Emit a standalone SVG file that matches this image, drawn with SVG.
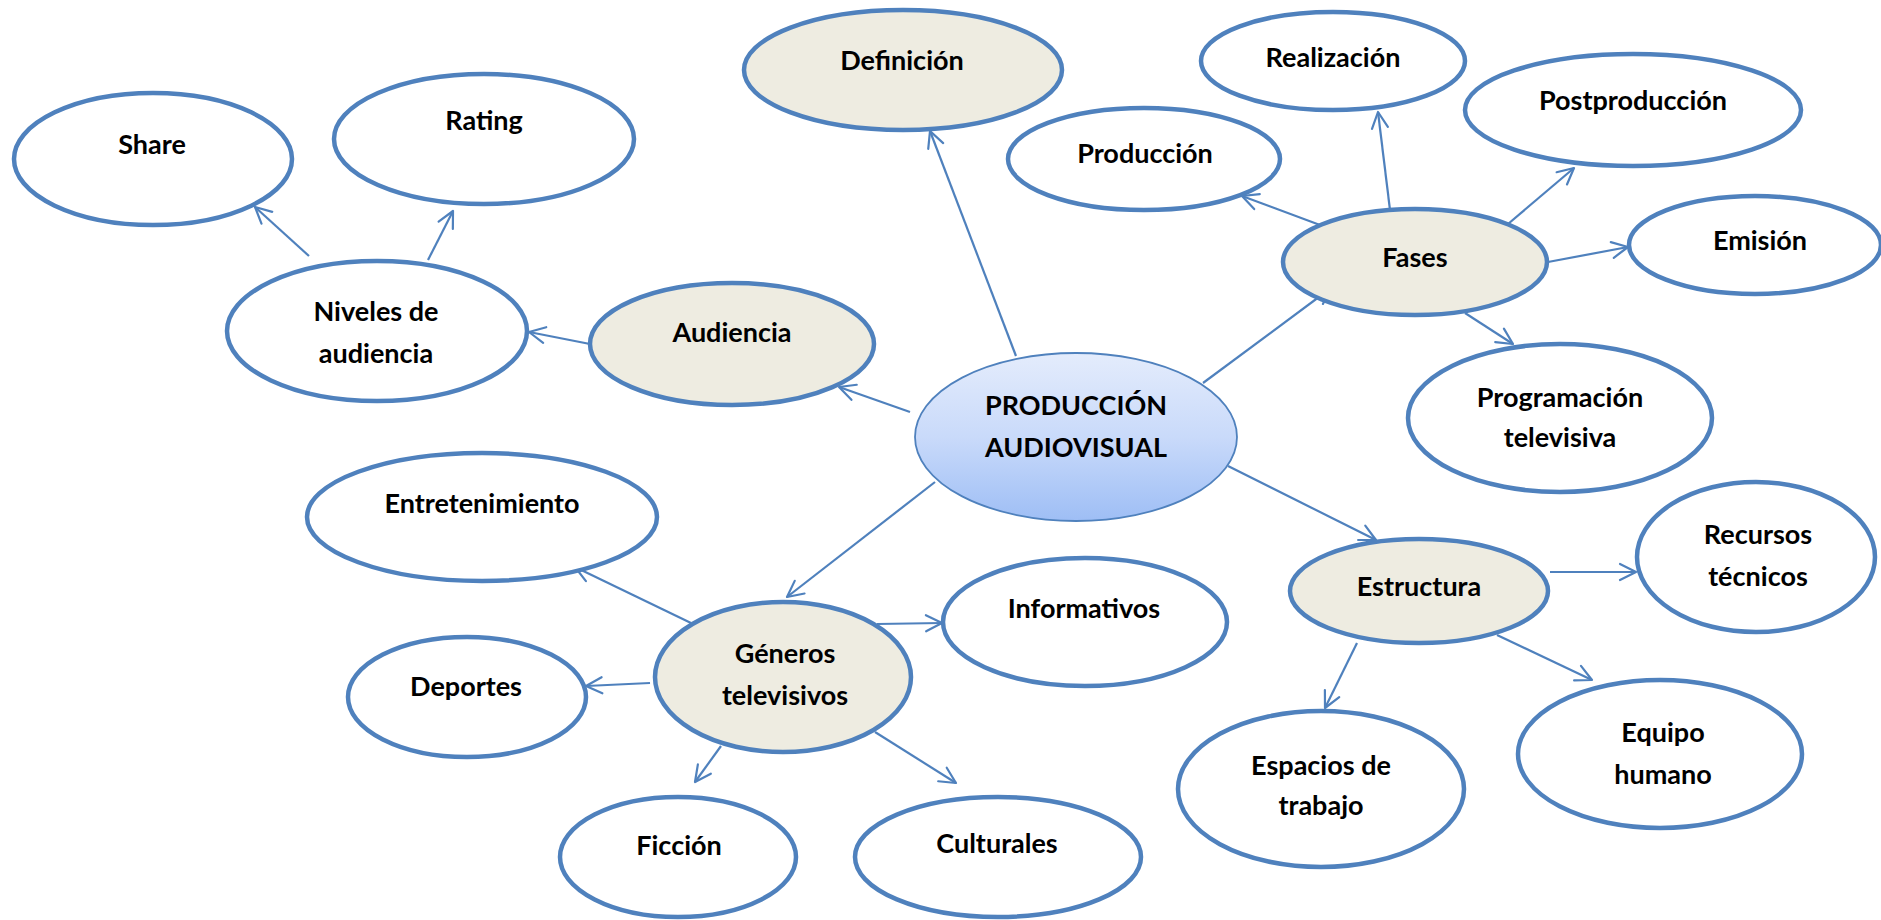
<svg xmlns="http://www.w3.org/2000/svg" width="1881" height="920" viewBox="0 0 1881 920">
<defs>
<linearGradient id="gc" x1="0" y1="0" x2="0" y2="1">
<stop offset="0" stop-color="#e4ecfc"/>
<stop offset="0.5" stop-color="#c9dafa"/>
<stop offset="1" stop-color="#9ebef5"/>
</linearGradient>
<marker id="ah" viewBox="-20 -12 24 24" markerWidth="24" markerHeight="24" refX="0" refY="0" orient="auto" markerUnits="userSpaceOnUse">
<path d="M-16,-8 L0,0 L-16,8" fill="none" stroke="#4f81bd" stroke-width="2.2" stroke-linecap="round" stroke-linejoin="round"/>
</marker>
<style>
.n{fill:#ffffff;stroke:#4f81bd;stroke-width:4.5}
.b{fill:#eeece1;stroke:#4f81bd;stroke-width:4.5}
.c{fill:url(#gc);stroke:#4f81bd;stroke-width:1.8}
text{font-family:Lato,"Open Sans","Liberation Sans",sans-serif;font-weight:bold;font-size:27px;fill:#000;text-anchor:middle}
.e line{stroke:#4f81bd;stroke-width:2.2;marker-end:url(#ah)}
</style>
</defs>
<rect width="1881" height="920" fill="#ffffff"/>
<g class="e" id="connectors">
<line x1="1016" y1="356" x2="930" y2="131"/>
<line x1="910" y1="412" x2="839" y2="387"/>
<line x1="590" y1="344" x2="529" y2="332"/>
<line x1="309" y1="256" x2="255" y2="207"/>
<line x1="428" y1="260" x2="453" y2="211"/>
<line x1="1203" y1="383" x2="1331" y2="288"/>
<line x1="1320" y1="225" x2="1242" y2="196"/>
<line x1="1390" y1="210" x2="1378" y2="112"/>
<line x1="1508" y1="224" x2="1574" y2="168"/>
<line x1="1548" y1="262" x2="1628" y2="247"/>
<line x1="1465" y1="313" x2="1513" y2="344"/>
<line x1="1228" y1="466" x2="1376" y2="540"/>
<line x1="1550" y1="572" x2="1636" y2="572"/>
<line x1="1497" y1="635" x2="1592" y2="680"/>
<line x1="1357" y1="643" x2="1325" y2="708"/>
<line x1="935" y1="482" x2="787" y2="597"/>
<line x1="691" y1="623" x2="575" y2="567"/>
<line x1="650" y1="683" x2="586" y2="686"/>
<line x1="721" y1="746" x2="695" y2="782"/>
<line x1="877" y1="624" x2="942" y2="623"/>
<line x1="875" y1="732" x2="956" y2="783"/>
</g>
<g id="central"><ellipse class="c" cx="1076" cy="437" rx="161" ry="84"/><text x="1076" y="415">PRODUCCIÓN</text><text x="1076" y="457">AUDIOVISUAL</text></g>
<g id="definicion"><ellipse class="b" cx="903" cy="70" rx="159" ry="60"/><text x="902" y="70">Definición</text></g>
<g id="audiencia"><ellipse class="b" cx="732" cy="344" rx="142" ry="61"/><text x="732" y="342">Audiencia</text></g>
<g id="niveles"><ellipse class="n" cx="377" cy="331" rx="150" ry="70"/><text x="376" y="321">Niveles de</text><text x="376" y="363">audiencia</text></g>
<g id="share"><ellipse class="n" cx="153" cy="159" rx="139" ry="66"/><text x="152" y="154">Share</text></g>
<g id="rating"><ellipse class="n" cx="484" cy="139" rx="150" ry="65"/><text x="484" y="130">Rating</text></g>
<g id="fases"><ellipse class="b" cx="1415" cy="262" rx="132" ry="53"/><text x="1415" y="267">Fases</text></g>
<g id="produccion"><ellipse class="n" cx="1144" cy="159" rx="136" ry="51"/><text x="1145" y="163">Producción</text></g>
<g id="realizacion"><ellipse class="n" cx="1333" cy="61" rx="132" ry="49"/><text x="1333" y="67">Realización</text></g>
<g id="postproduccion"><ellipse class="n" cx="1633" cy="110" rx="168" ry="56"/><text x="1633" y="110">Postproducción</text></g>
<g id="emision"><ellipse class="n" cx="1755" cy="245" rx="126" ry="49"/><text x="1760" y="250">Emisión</text></g>
<g id="programacion"><ellipse class="n" cx="1560" cy="418" rx="152" ry="74"/><text x="1560" y="407">Programación</text><text x="1560" y="447">televisiva</text></g>
<g id="estructura"><ellipse class="b" cx="1419" cy="591" rx="129" ry="52"/><text x="1419" y="596">Estructura</text></g>
<g id="recursos"><ellipse class="n" cx="1756" cy="557" rx="119" ry="75"/><text x="1758" y="544">Recursos</text><text x="1758" y="586">técnicos</text></g>
<g id="equipo"><ellipse class="n" cx="1660" cy="754" rx="142" ry="74"/><text x="1663" y="742">Equipo</text><text x="1663" y="784">humano</text></g>
<g id="espacios"><ellipse class="n" cx="1321" cy="789" rx="143" ry="78"/><text x="1321" y="775">Espacios de</text><text x="1321" y="815">trabajo</text></g>
<g id="generos"><ellipse class="b" cx="783" cy="677" rx="128" ry="75"/><text x="785" y="663">Géneros</text><text x="785" y="705">televisivos</text></g>
<g id="entretenimiento"><ellipse class="n" cx="482" cy="517" rx="175" ry="64"/><text x="482" y="513">Entretenimiento</text></g>
<g id="deportes"><ellipse class="n" cx="467" cy="697" rx="119" ry="60"/><text x="466" y="696">Deportes</text></g>
<g id="ficcion"><ellipse class="n" cx="678" cy="857" rx="118" ry="60"/><text x="679" y="855">Ficción</text></g>
<g id="informativos"><ellipse class="n" cx="1085" cy="622" rx="142" ry="64"/><text x="1084" y="618">Informativos</text></g>
<g id="culturales"><ellipse class="n" cx="998" cy="857" rx="143" ry="60"/><text x="997" y="853">Culturales</text></g>
</svg>
